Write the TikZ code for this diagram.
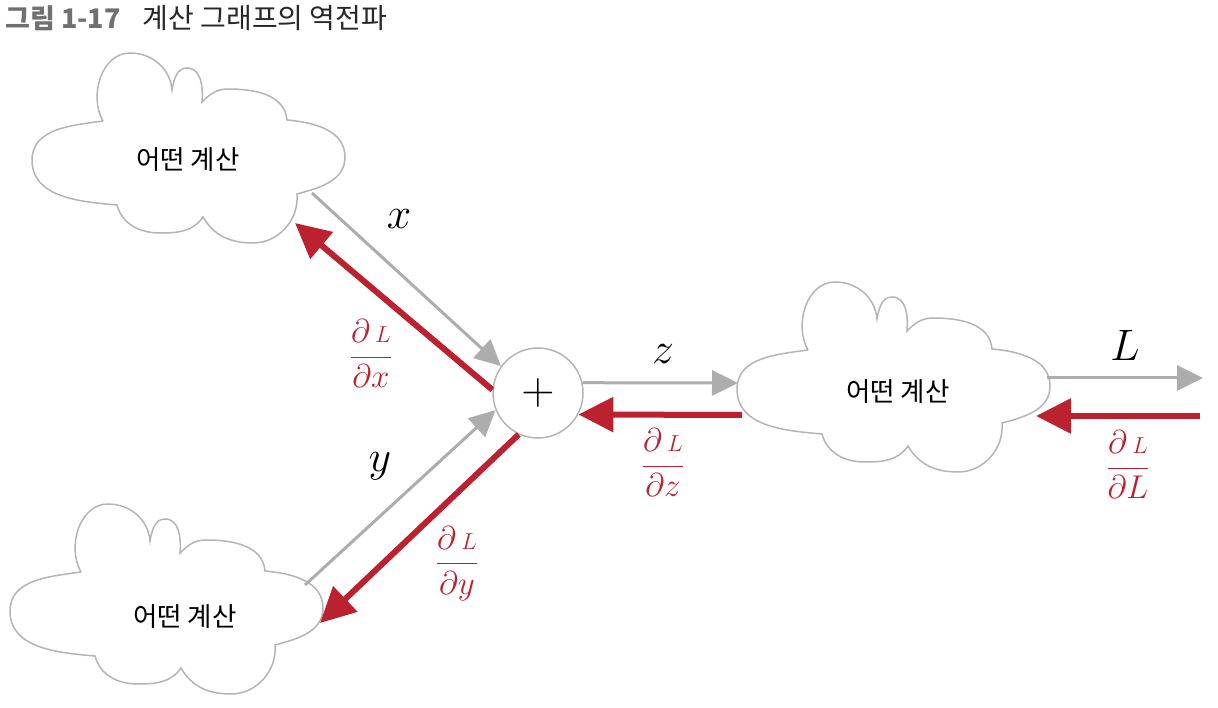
\RequirePackage{fix-cm}
\documentclass[tikz,border=0pt]{standalone}
\usepackage{amsmath}
\usepackage{fontspec}
\newfontfamily\kr{Noto Sans CJK KR}
\usepackage{tikz}
\usetikzlibrary{arrows.meta}

\definecolor{cloudgray}{RGB}{180,180,180}
\definecolor{arrowgray}{RGB}{172,173,172}
\definecolor{backred}{RGB}{187,33,46}
\definecolor{titlegray}{RGB}{112,112,112}

\tikzset{
  puffcloud/.pic={
    \draw[cloudline] (-85,39) to[out=188,in=90] (-156,0)
      to[out=270,in=175] (-71,-45)
      to[out=285,in=180] (-28,-73)
      to[out=0,in=235] (15,-57)
      to[out=300,in=180] (65,-83)
      to[out=0,in=275] (109,-34)
      to[out=15,in=270] (157,3)
      to[out=90,in=355] (99,40)
      to[out=95,in=0] (40,71)
      to[out=180,in=45] (14,58)
      to[out=85,in=0] (-1,92)
      to[out=180,in=80] (-16,70)
      to[out=95,in=0] (-58,107)
      to[out=180,in=120] (-85,39);
  }
}

\begin{document}
\begin{tikzpicture}[x=1pt, y=1pt,
  cloudline/.style={draw=cloudgray, line width=1.5pt},
  cloudtext/.style={font=\kr\fontsize{26.5}{30}\selectfont, inner sep=0pt},
  plusnode/.style={circle, draw=cloudgray, line width=1.5pt, minimum size=90pt,
                   inner sep=0pt, font=\fontsize{46}{50}\selectfont},
  fwd/.style={draw=arrowgray, line width=3pt, -{Triangle[length=26pt,width=25pt]}},
  bwd/.style={draw=backred, line width=6pt, -{Triangle[length=35pt,width=34pt]}},
  varlabel/.style={font=\fontsize{44}{50}\selectfont, inner sep=0pt},
  gradlabel/.style={text=backred, font=\fontsize{33}{36}\selectfont, inner sep=0pt}]
\useasboundingbox (0,0) rectangle (1218,-708);

\node[anchor=base west, inner sep=0pt] (title) at (5,-29)
  {\kr\fontsize{27}{32}\selectfont{\color{titlegray}\bfseries 그림 1-17}\hspace{22pt}{\fontsize{28}{32}\selectfont\color{black!85}계산 그래프의 역전파}};

% clouds
\pic at (188,-160) {puffcloud};
\pic at (166,-611) {puffcloud};
\pic at (893,-389) {puffcloud};
\node[cloudtext] (calc1) at (188,-160) {어떤 계산};
\node[cloudtext] (calc2) at (185,-617) {어떤 계산};
\node[cloudtext] (calc3) at (898,-392) {어떤 계산};
\node[plusnode] (plus) at (538,-393) {$+$};

% free ends on the clouds
\coordinate (xin) at (312,-193);
\coordinate (dxout) at (295,-223);
\coordinate (yin) at (305,-585);
\coordinate (dyout) at (320,-623);
\coordinate (zout) at (738,-383);
\coordinate (dzin) at (742,-415);
\coordinate (Lin) at (1047,-378);
\coordinate (Lout) at (1203,-378);
\coordinate (dLin) at (1200,-416);
\coordinate (dLout) at (1036,-416);

% forward
\draw[fwd] (xin) -- (plus.144);
\draw[fwd] (yin) -- (plus.202);
\draw[fwd] (plus.13) -- (zout);
\draw[fwd] (Lin) -- (Lout);
% backward
\draw[bwd] (plus.176) -- (dxout);
\draw[bwd] (plus.245) -- (dyout);
\draw[bwd] (dzin) -- (plus.-28);
\draw[bwd] (dLin) -- (dLout);

\node[varlabel] (xlab) at (399,-219) {$x$};
\node[varlabel] (ylab) at (380,-466) {$y$};
\node[varlabel] (zlab) at (663,-354) {$z$};
\node[varlabel] (Llab) at (1125,-345) {$L$};
\node[gradlabel] (dxlab) at (371,-354) {$\dfrac{\partial\,{\scriptstyle L}}{\partial x}$};
\node[gradlabel] (dzlab) at (663,-463) {$\dfrac{\partial\,{\scriptstyle L}}{\partial z}$};
\node[gradlabel] (dylab) at (457,-564) {$\dfrac{\partial\,{\scriptstyle L}}{\partial y}$};
\node[gradlabel] (dLlab) at (1128,-465) {$\dfrac{\partial\,{\scriptstyle L}}{\partial L}$};
\end{tikzpicture}
\end{document}
